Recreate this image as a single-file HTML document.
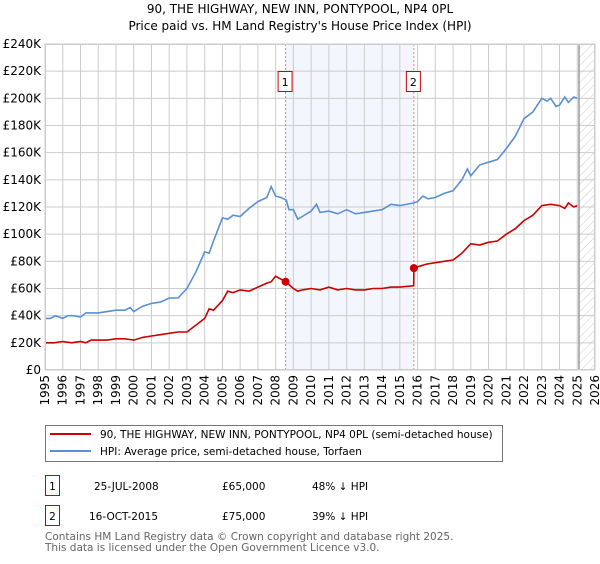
<!DOCTYPE html>
<html><head><meta charset="utf-8"><style>
body{margin:0;background:#fff;font-family:"DejaVu Sans","Liberation Sans",sans-serif;}
svg text{font-family:"DejaVu Sans","Liberation Sans",sans-serif;}
</style></head><body>
<svg id="c" width="600" height="560" xmlns="http://www.w3.org/2000/svg">
<defs><pattern id="hatch" width="6" height="6" patternUnits="userSpaceOnUse" patternTransform="rotate(45)"><line x1="0" y1="0" x2="0" y2="6" stroke="#ccc" stroke-width="1"/></pattern></defs>
<text x="300" y="13" text-anchor="middle" font-size="12">90, THE HIGHWAY, NEW INN, PONTYPOOL, NP4 0PL</text>
<text x="300" y="30" text-anchor="middle" font-size="12">Price paid vs. HM Land Registry's House Price Index (HPI)</text>
<g id="plot"></g>
<g>
<rect x="45.5" y="425.5" width="457" height="36" fill="#fff" stroke="#777"/>
<line x1="50" y1="434" x2="91" y2="434" stroke="#cc0000" stroke-width="2"/>
<text x="100" y="438" font-size="10.5">90, THE HIGHWAY, NEW INN, PONTYPOOL, NP4 0PL (semi-detached house)</text>
<line x1="50" y1="451" x2="91" y2="451" stroke="#5b8fd4" stroke-width="2"/>
<text x="100" y="455" font-size="10.5">HPI: Average price, semi-detached house, Torfaen</text>
</g>
<g font-size="10.5">
<rect x="45.5" y="475.5" width="14" height="20" fill="#fff" stroke="#cc0000"/><text x="52.5" y="490" text-anchor="middle">1</text>
<text x="94" y="490">25-JUL-2008</text><text x="222" y="490">£65,000</text><text x="312" y="490">48% ↓ HPI</text>
<rect x="45.5" y="505.5" width="14" height="20" fill="#fff" stroke="#cc0000"/><text x="52.5" y="520" text-anchor="middle">2</text>
<text x="89" y="520">16-OCT-2015</text><text x="222" y="520">£75,000</text><text x="312" y="520">39% ↓ HPI</text>
</g>
<text x="45" y="540" font-size="10.5" fill="#666">Contains HM Land Registry data © Crown copyright and database right 2025.</text>
<text x="45" y="551" font-size="10.5" fill="#666">This data is licensed under the Open Government Licence v3.0.</text>
</svg>
<script>
const yTicks=[0,20,40,60,80,100,120,140,160,180,200,220,240];
const xYears=[1995,1996,1997,1998,1999,2000,2001,2002,2003,2004,2005,2006,2007,2008,2009,2010,2011,2012,2013,2014,2015,2016,2017,2018,2019,2020,2021,2022,2023,2024,2025,2026];
const hpiT=[1995,1995.3,1995.6,1996,1996.3,1996.6,1997,1997.3,1997.6,1998,1998.5,1999,1999.5,1999.8,2000,2000.5,2001,2001.5,2002,2002.5,2003,2003.5,2004,2004.25,2004.5,2005,2005.3,2005.6,2006,2006.5,2007,2007.5,2007.75,2008,2008.3,2008.6,2008.75,2009,2009.25,2009.5,2010,2010.3,2010.5,2011,2011.5,2012,2012.5,2013,2013.5,2014,2014.5,2015,2015.8,2016,2016.3,2016.6,2017,2017.5,2018,2018.5,2018.8,2019,2019.5,2020,2020.5,2021,2021.5,2022,2022.5,2023,2023.3,2023.5,2023.8,2024,2024.3,2024.5,2024.8,2025];
const hpiV=[38,38,40,38,40,40,39,42,42,42,43,44,44,46,43,47,49,50,53,53,60,72,87,86,95,112,111,114,113,119,124,127,135,128,127,125,118,118,111,113,117,122,116,117,115,118,115,116,117,118,122,121,123,124,128,126,127,130,132,140,148,143,151,153,155,163,172,185,190,200,198,200,194,195,201,197,201,200];
const ppT=[1995,1995.5,1996,1996.5,1997,1997.3,1997.6,1998,1998.5,1999,1999.5,2000,2000.5,2001,2001.5,2002,2002.5,2003,2003.5,2004,2004.25,2004.5,2005,2005.3,2005.6,2006,2006.5,2007,2007.5,2007.75,2008,2008.56,2009,2009.25,2009.5,2010,2010.5,2011,2011.5,2012,2012.5,2013,2013.5,2014,2014.5,2015,2015.78,2015.79,2016,2016.5,2017,2017.5,2018,2018.5,2019,2019.5,2020,2020.5,2021,2021.5,2022,2022.5,2023,2023.5,2024,2024.3,2024.5,2024.8,2025];
const ppV=[20,20,21,20,21,20,22,22,22,23,23,22,24,25,26,27,28,28,33,38,45,44,51,58,57,59,58,61,64,65,69,65,60,58,59,60,59,61,59,60,59,59,60,60,61,61,62,75,76,78,79,80,81,86,93,92,94,95,100,104,110,114,121,122,121,119,123,120,121];
const sales=[[2008.56,65,"1"],[2015.79,75,"2"]];
const X0=45,X1=595,Y0=370,Y1=44;
const xs=t=>X0+(t-1995)/(2026-1995)*(X1-X0);
const ys=v=>Y0-v/240*(Y0-Y1);
const NS="http://www.w3.org/2000/svg";
const g=document.getElementById('plot');
function mk(tag,attrs,parent){const e=document.createElementNS(NS,tag);for(const k in attrs)e.setAttribute(k,attrs[k]);(parent||g).appendChild(e);return e;}
let sh=mk('rect',{x:xs(sales[0][0]),y:Y1,width:xs(sales[1][0])-xs(sales[0][0]),height:Y0-Y1,fill:'#f3f6fd'});


let ht=mk('rect',{x:xs(2025.1),y:Y1,width:X1-xs(2025.1),height:Y0-Y1,fill:'url(#hatch)'});


yTicks.forEach(v=>{
  let l=mk('line',{x1:X0,x2:X1,y1:ys(v),y2:ys(v),stroke:'#ccc','stroke-width':1});
  
  
  let t=mk('text',{x:X0-4,y:ys(v)+4,'text-anchor':'end','font-size':12});
  
  
  t.textContent=v===0?'£0':'£'+v+'K';
});
xYears.forEach(yr=>{
  let l=mk('line',{x1:xs(yr),x2:xs(yr),y1:Y1,y2:Y0,stroke:'#ccc','stroke-width':1});
  
  
  let t=mk('text',{x:0,y:0,'font-size':12,'text-anchor':'end',transform:`translate(${xs(yr)+4},${Y0+5}) rotate(-90)`});
  
  
  t.textContent=yr;
});
let nl=mk('line',{x1:xs(2025.1),x2:xs(2025.1),y1:Y1,y2:Y0,stroke:'#999','stroke-width':1.5});


sales.forEach(s=>{
  let l=mk('line',{x1:xs(s[0]),x2:xs(s[0]),y1:Y1,y2:Y0,stroke:'#f08080','stroke-width':1,'stroke-dasharray':'2,2'});
  
  
});
function path(T,V){return T.map((t,i)=>(i?'L':'M')+xs(t).toFixed(1)+','+ys(V[i]).toFixed(1)).join('');}
let hp=mk('path',{d:path(hpiT,hpiV),fill:'none',stroke:'#5b8fd4','stroke-width':1.6});


let pp=mk('path',{d:path(ppT,ppV),fill:'none',stroke:'#cc0000','stroke-width':1.6});


sales.forEach(s=>{
  let c=mk('circle',{cx:xs(s[0]),cy:ys(s[1]),r:4,fill:'#cc0000'});
  
  
  let b=mk('rect',{x:xs(s[0])-7.5,y:71.5,width:14,height:20,fill:'#fff',stroke:'#cc0000'});
  
  
  let t=mk('text',{x:xs(s[0])-0.5,y:86,'text-anchor':'middle','font-size':11});
  
  
  t.textContent=s[2];
});
let fr=mk('rect',{x:X0+0.5,y:Y1+0.5,width:X1-X0-1,height:Y0-Y1-1,fill:'none',stroke:'#ccc'});


</script>
</body></html>
